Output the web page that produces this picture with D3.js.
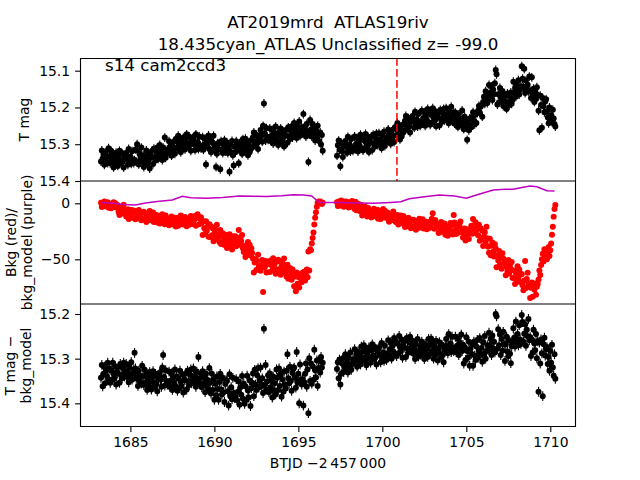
<!DOCTYPE html>
<html><head><meta charset="utf-8">
<script src="https://cdn.jsdelivr.net/npm/d3@7"></script>
<style>body{margin:0;background:#fff}svg{display:block}text{font-family:"DejaVu Sans",sans-serif;white-space:pre}</style>
</head><body><svg id="c" width="640" height="480"></svg>
<script>
// regular TESS cadence for the two orbits
const seg1Start = 1683.25, seg2Start = 1697.3, cadence = 0.05;

const topMag1 = [
15.347,15.317,15.339,15.328,15.356,15.322,15.344,15.333,15.351,15.311,
15.333,15.352,15.318,15.346,15.327,15.363,15.335,15.355,15.323,15.344,
15.359,15.331,15.318,15.343,15.351,15.324,15.347,15.363,15.334,15.328,
15.324,15.340,15.356,15.313,15.348,15.334,15.353,15.319,15.343,15.351,
15.343,15.314,15.348,15.300,15.318,15.355,15.327,15.339,15.309,15.346,
15.330,15.362,15.334,15.356,15.317,15.341,15.352,15.325,15.366,15.337,
15.333,15.318,15.354,15.312,15.336,15.344,15.321,15.309,15.340,15.329,
15.302,15.331,15.319,15.343,15.309,15.329,15.282,15.337,15.324,15.314,
15.322,15.292,15.314,15.303,15.331,15.297,15.319,15.308,15.326,15.286,
15.292,15.311,15.277,15.305,15.286,15.322,15.294,15.314,15.282,15.303,
15.314,15.286,15.273,15.298,15.306,15.279,15.302,15.318,15.289,15.283,
15.284,15.300,15.316,15.273,15.308,15.294,15.313,15.279,15.303,15.311,
15.310,15.281,15.315,15.301,15.285,15.355,15.294,15.306,15.276,15.313,
15.290,15.322,15.294,15.316,15.277,15.301,15.312,15.362,15.326,15.297,
15.313,15.298,15.368,15.292,15.316,15.324,15.301,15.289,15.320,15.309,
15.295,15.324,15.312,15.375,15.302,15.322,15.291,15.330,15.358,15.307,
15.322,15.292,15.314,15.303,15.352,15.297,15.319,15.308,15.326,15.286,
15.300,15.319,15.285,15.313,15.294,15.330,15.302,15.322,15.290,15.311,
15.309,15.281,15.268,15.293,15.301,15.274,15.297,15.313,15.284,15.278,
15.261,15.277,15.293,15.250,15.189,15.271,15.290,15.256,15.280,15.288,
15.286,15.257,15.291,15.277,15.261,15.298,15.270,15.282,15.252,15.289,
15.270,15.302,15.274,15.296,15.257,15.281,15.292,15.265,15.306,15.277,
15.275,15.260,15.296,15.254,15.278,15.286,15.263,15.251,15.282,15.271,
15.242,15.271,15.259,15.283,15.249,15.269,15.238,15.277,15.264,15.254,
15.270,15.218,15.262,15.251,15.279,15.245,15.267,15.348,15.274,15.234,
15.260,15.279,15.245,15.273,15.254,15.290,15.262,15.282,15.250,15.271,
15.292,15.268,15.301,15.275,15.318];

const topMag2 = [
15.331,15.303,15.290,15.315,15.360,15.296,15.319,15.335,15.306,15.300,
15.291,15.307,15.323,15.280,15.315,15.301,15.320,15.286,15.310,15.318,
15.308,15.279,15.313,15.299,15.283,15.320,15.292,15.304,15.274,15.311,
15.285,15.317,15.289,15.311,15.272,15.296,15.307,15.280,15.321,15.292,
15.295,15.280,15.316,15.274,15.298,15.306,15.283,15.271,15.302,15.291,
15.270,15.299,15.287,15.311,15.277,15.297,15.266,15.305,15.292,15.282,
15.290,15.260,15.282,15.271,15.299,15.265,15.287,15.276,15.294,15.254,
15.257,15.276,15.242,15.270,15.251,15.287,15.259,15.279,15.247,15.268,
15.264,15.236,15.223,15.248,15.256,15.229,15.252,15.268,15.239,15.233,
15.223,15.239,15.255,15.212,15.247,15.233,15.252,15.218,15.242,15.250,
15.238,15.209,15.243,15.229,15.213,15.250,15.222,15.234,15.204,15.241,
15.215,15.247,15.219,15.241,15.202,15.226,15.237,15.210,15.251,15.222,
15.228,15.213,15.249,15.207,15.231,15.239,15.216,15.204,15.235,15.224,
15.202,15.231,15.219,15.243,15.209,15.229,15.198,15.237,15.224,15.214,
15.244,15.214,15.236,15.225,15.253,15.219,15.241,15.230,15.248,15.208,
15.240,15.259,15.225,15.253,15.234,15.288,15.242,15.262,15.230,15.251,
15.254,15.226,15.213,15.238,15.246,15.219,15.242,15.215,15.209,15.196,
15.214,15.198,15.193,15.225,15.185,15.171,15.190,15.156,15.180,15.188,
15.168,15.139,15.173,15.159,15.143,15.180,15.152,15.164,15.134,15.098,
15.110,15.192,15.164,15.186,15.147,15.171,15.182,15.155,15.196,15.167,
15.183,15.168,15.204,15.162,15.186,15.194,15.171,15.159,15.190,15.179,
15.130,15.159,15.147,15.171,15.137,15.157,15.126,15.165,15.152,15.142,
15.088,15.122,15.144,15.095,15.161,15.127,15.149,15.138,15.156,15.116,
15.155,15.174,15.118,15.168,15.149,15.185,15.157,15.177,15.145,15.166,
15.209,15.262,15.168,15.193,15.255,15.174,15.197,15.213,15.184,15.178,
15.211,15.227,15.243,15.200,15.235,15.221,15.240,15.206,15.230,15.245,
15.252];

const bkg1 = [
0.4,-3.2,-0.5,-1.8,1.5,-2.6,0.1,-1.2,0.9,-3.9,
-2.6,-0.3,-4.4,-1.0,-3.3,1.0,-2.4,0.0,-3.8,-1.3,
-2.2,-7.8,-10.4,-5.4,-3.8,-9.2,-4.6,-1.4,-7.2,-8.4,
-11.8,-8.6,-5.4,-14.0,-7.0,-9.8,-6.0,-12.8,-8.0,-6.4,
-8.4,-14.2,-7.4,-10.2,-13.4,-6.0,-11.6,-9.2,-15.2,-7.8,
-14.0,-7.6,-13.2,-8.8,-16.6,-11.8,-9.6,-15.0,-6.8,-12.6,
-12.4,-15.4,-8.2,-16.6,-11.8,-10.2,-14.8,-17.2,-11.0,-13.2,
-18.0,-12.2,-14.6,-9.8,-16.6,-12.6,-18.8,-11.0,-13.6,-15.6,
-13.6,-19.6,-15.2,-17.4,-11.8,-18.6,-14.2,-16.4,-12.8,-20.8,
-17.0,-13.2,-20.0,-14.4,-18.2,-11.0,-16.6,-12.6,-19.0,-14.8,
-12.2,-17.8,-20.4,-15.4,-13.8,-19.2,-14.6,-11.4,-17.2,-18.4,
-17.8,-14.6,-11.4,-20.0,-13.0,-9.8,-12.0,-18.8,-14.0,-12.4,
-17.6,-28.3,-16.1,-22.3,-27.1,-16.0,-24.4,-20.8,-29.8,-18.7,
-30.0,-20.4,-28.8,-22.2,-33.9,-26.7,-23.4,-31.5,-19.2,-27.9,
-30.1,-34.6,-23.8,-36.4,-29.2,-26.8,-33.7,-37.3,-28.0,-31.3,
-40.0,-31.3,-34.9,-27.7,-37.9,-31.9,-41.2,-29.5,-33.4,-36.4,
-29.4,-38.4,-31.8,-35.1,-23.8,-36.9,-30.3,-33.6,-28.2,-40.2,
-43.5,-37.8,-48.0,-39.6,-45.3,-34.5,-42.9,-36.9,-46.5,-40.2,
-44.3,-49.2,-61.7,-52.9,-50.1,-59.6,-51.5,-45.9,-56.1,-58.2,
-60.2,-55.4,-50.6,-79.2,-53.0,-57.2,-51.5,-61.7,-54.5,-52.1,
-52.6,-61.3,-51.1,-55.3,-60.1,-49.0,-57.4,-53.8,-62.8,-51.7,
-60.0,-50.4,-58.8,-52.2,-63.9,-56.7,-53.4,-61.5,-49.2,-57.9,
-61.1,-65.6,-54.8,-67.4,-60.2,-57.8,-64.7,-68.3,-59.0,-62.3,
-74.0,-65.3,-78.5,-61.7,-71.9,-65.9,-75.2,-63.5,-67.4,-70.4,
-62,-67,-61,-69,-64,-59,-66,-43,-60,-41,
-42,-36,-31,-26,-19,-13,-8,-3,0.5,1.5,
0.8,1.6,0.2,-0.6,0.4];

const bkg2 = [
1.0,-2.5,1.6,-0.1,-2.0,2.4,-1.0,0.5,-3.1,1.3,
-2.2,1.6,-1.7,0.9,-3.8,-0.9,0.4,-2.8,2.1,-1.4,
-2.5,-5.1,1.4,-6.3,-1.9,-0.4,-4.7,-6.8,-1.2,-3.2,
-11.0,-5.2,-7.6,-2.8,-9.6,-5.6,-11.8,-4.0,-6.6,-8.6,
-6.6,-12.6,-8.2,-10.4,-4.8,-11.6,-7.2,-9.4,-5.8,-13.8,
-11.0,-7.2,-14.0,-8.4,-12.2,-5.0,-10.6,-6.6,-13.0,-8.8,
-8.2,-13.8,-16.4,-11.4,-9.8,-15.2,-10.6,-7.4,-13.2,-14.4,
-16.8,-13.6,-10.4,-19.0,-12.0,-14.8,-11.0,-17.8,-13.0,-11.4,
-15.4,-21.2,-14.4,-17.2,-20.4,-13.0,-18.6,-16.2,-22.2,-14.8,
-21.0,-14.6,-20.2,-15.8,-23.6,-18.8,-16.6,-22.0,-13.8,-19.6,
-18.4,-21.4,-14.2,-22.6,-17.8,-16.2,-20.8,-23.2,-17.0,-19.2,
-22.0,-16.2,-18.6,-13.8,-9.0,-16.6,-22.8,-15.0,-17.6,-19.6,
-19.0,-26.5,-21.0,-23.8,-16.7,-25.3,-19.7,-22.5,-18.0,-28.0,
-25.3,-20.5,-29.0,-22.0,-26.8,-17.7,-24.8,-19.7,-27.8,-10.5,
-17.2,-24.3,-27.5,-21.2,-19.2,-26.0,-20.2,-16.2,-23.5,-25.0,
-30.5,-26.5,-22.5,-33.3,-24.5,-28.0,-23.2,-31.8,-25.7,-23.7,
-20.0,-27.3,-14.0,-22.3,-26.3,-17.0,-24.0,-21.0,-28.5,-19.2,
-33.5,-22.3,-32.1,-24.4,-38.1,-29.6,-25.8,-35.3,-20.9,-31.1,
-38.9,-44.2,-31.6,-46.3,-37.9,-35.1,-43.2,-47.4,-36.5,-40.4,
-57.0,-46.8,-51.1,-42.6,-54.6,-47.5,-58.4,-44.7,-49.3,-52.8,
-53.8,-64.3,-56.6,-60.5,-50.6,-62.6,-54.8,-58.7,-52.4,-66.4,
-66.8,-60.1,-72.0,-62.2,-68.9,-56.2,-66.1,-59.0,-70.3,-62.9,
-63.3,-73.2,-77.7,-68.9,-51.5,-75.6,-67.5,-61.9,-72.1,-74.2,
-84.6,-75.4,-70.6,-83.5,-73.0,-77.2,-71.5,-81.7,-74.5,-72.1,
-68,-60,-64,-55,-50,-45,-52,-41,-48,-43,
-50,-44,-39,-47,-42,-36,-28,-21,-12,-5,
-1.5];

const modelT = [1683.25,1684.0,1684.6,1685.3,1685.9,1686.6,1687.5,1688.1,1688.6,1689.5,1690.5,1691.5,1692.3,1693.1,1694.0,1694.7,1695.3,1695.8,1696.1,1696.3,1697.3,1698.5,1699.5,1700.5,1701.1,1701.6,1702.5,1703.4,1704.3,1705.0,1705.6,1706.6,1707.3,1707.8,1708.3,1708.8,1709.2,1709.8,1710.25];
const modelV = [0.6,0.0,-1.0,-1.5,0.3,1.5,2.9,6.3,5.0,4.4,5.2,6.5,6.2,6.0,6.8,7.7,7.5,6.5,2.5,0.6,0.6,0.3,0.0,0.8,1.4,4.0,5.8,7.4,6.5,4.5,7.4,11.9,12.5,12.5,14.0,15.4,14.8,11.3,11.0];

const botMag1 = [
15.343,15.314,15.362,15.334,15.318,15.355,15.327,15.339,15.309,15.346,
15.322,15.354,15.326,15.348,15.309,15.333,15.344,15.317,15.358,15.329,
15.333,15.318,15.354,15.312,15.336,15.344,15.321,15.309,15.340,15.329,
15.312,15.341,15.329,15.353,15.319,15.339,15.308,15.347,15.334,15.324,
15.287,15.322,15.344,15.333,15.361,15.327,15.349,15.338,15.356,15.316,
15.340,15.359,15.325,15.353,15.334,15.370,15.342,15.362,15.330,15.351,
15.369,15.341,15.328,15.353,15.361,15.334,15.357,15.373,15.344,15.338,
15.331,15.347,15.363,15.320,15.292,15.341,15.360,15.326,15.350,15.358,
15.358,15.329,15.363,15.349,15.333,15.370,15.342,15.354,15.324,15.361,
15.340,15.372,15.344,15.366,15.327,15.351,15.362,15.335,15.376,15.347,
15.348,15.333,15.369,15.327,15.351,15.359,15.336,15.324,15.355,15.344,
15.322,15.351,15.339,15.363,15.329,15.349,15.296,15.357,15.344,15.334,
15.364,15.328,15.355,15.342,15.375,15.334,15.361,15.348,15.369,15.321,
15.354,15.378,15.334,15.370,15.346,15.392,15.356,15.382,15.340,15.368,
15.392,15.352,15.334,15.369,15.380,15.343,15.375,15.397,15.357,15.348,
15.350,15.373,15.405,15.335,15.384,15.364,15.391,15.343,15.377,15.388,
15.386,15.346,15.393,15.374,15.351,15.403,15.364,15.381,15.339,15.390,
15.356,15.401,15.362,15.392,15.338,15.371,15.387,15.349,15.406,15.366,
15.354,15.333,15.384,15.325,15.358,15.370,15.337,15.321,15.364,15.349,
15.320,15.361,15.344,15.377,15.233,15.358,15.314,15.369,15.351,15.337,
15.375,15.333,15.364,15.348,15.387,15.340,15.371,15.355,15.380,15.324,
15.343,15.370,15.322,15.361,15.335,15.385,15.346,15.374,15.329,15.358,
15.367,15.327,15.290,15.344,15.355,15.318,15.350,15.372,15.332,15.323,
15.320,15.343,15.365,15.285,15.354,15.334,15.400,15.313,15.347,15.358,
15.346,15.405,15.353,15.334,15.311,15.363,15.324,15.422,15.299,15.350,
15.311,15.356,15.317,15.347,15.280,15.326,15.342,15.304,15.361,15.321,
15.302,15.331,15.296,15.320,15.309];

const botMag2 = [
15.323,15.308,15.344,15.302,15.358,15.334,15.311,15.299,15.330,15.319,
15.290,15.319,15.307,15.331,15.297,15.317,15.286,15.325,15.312,15.302,
15.309,15.279,15.301,15.290,15.318,15.284,15.306,15.295,15.313,15.273,
15.285,15.304,15.270,15.298,15.279,15.315,15.287,15.307,15.275,15.296,
15.309,15.281,15.268,15.293,15.301,15.274,15.297,15.313,15.284,15.278,
15.276,15.292,15.308,15.265,15.300,15.286,15.305,15.271,15.295,15.303,
15.288,15.259,15.293,15.279,15.263,15.300,15.272,15.284,15.254,15.291,
15.262,15.294,15.266,15.288,15.249,15.273,15.284,15.257,15.298,15.269,
15.275,15.260,15.296,15.254,15.278,15.286,15.263,15.251,15.282,15.271,
15.260,15.289,15.277,15.301,15.267,15.287,15.256,15.295,15.282,15.272,
15.292,15.262,15.284,15.273,15.301,15.267,15.289,15.278,15.296,15.256,
15.270,15.289,15.255,15.283,15.264,15.300,15.272,15.292,15.260,15.281,
15.304,15.276,15.263,15.288,15.296,15.269,15.292,15.308,15.279,15.273,
15.256,15.272,15.288,15.245,15.280,15.266,15.285,15.251,15.275,15.283,
15.280,15.251,15.285,15.271,15.255,15.292,15.264,15.276,15.246,15.283,
15.269,15.311,15.274,15.303,15.252,15.283,15.298,15.262,15.316,15.278,
15.289,15.269,15.316,15.262,15.293,15.303,15.273,15.258,15.298,15.284,
15.254,15.292,15.276,15.307,15.263,15.289,15.249,15.300,15.283,15.270,
15.281,15.242,15.270,15.256,15.292,15.248,15.277,15.262,15.286,15.200,
15.205,15.278,15.234,15.270,15.246,15.292,15.256,15.282,15.240,15.268,
15.305,15.268,15.251,15.284,15.294,15.259,15.289,15.310,15.272,15.264,
15.232,15.253,15.273,15.217,15.263,15.245,15.270,15.225,15.257,15.267,
15.202,15.218,15.262,15.244,15.223,15.271,15.235,15.250,15.211,15.259,
15.252,15.294,15.257,15.286,15.235,15.266,15.281,15.245,15.299,15.261,
15.374,15.264,15.311,15.257,15.288,15.384,15.268,15.253,15.293,15.279,
15.274,15.312,15.296,15.327,15.283,15.309,15.269,15.320,15.338,15.290,
15.345];

const topErr = 0.012, botErr = 0.011;
const markerTime = 1700.87;
const xTicks = [1685, 1690, 1695, 1700, 1705, 1710];
const topTicks = [15.1, 15.2, 15.3, 15.4];
const midTicks = [0, -50];
const botTicks = [15.2, 15.3, 15.4];
const titleLines = ["AT2019mrd  ATLAS19riv", "18.435cyan_ATLAS Unclassified z= -99.0"];
const sectorLabel = "s14 cam2ccd3";
const xLabel = "BTJD \u22122\u2009457\u2009000";

// ---------- drawing ----------
const svg = d3.select("#c");
const L = 80, R = 576;
const P = [[58,181],[181,304],[304,427]];
const x = d3.scaleLinear().domain([1682.0, 1711.53]).range([L, R]);
const yTop = d3.scaleLinear().domain([15.0655, 15.4]).range([58, 181]);
const yMid = d3.scaleLinear().domain([19.9, -89.9]).range([181, 304]);
const yBot = d3.scaleLinear().domain([15.1776, 15.453]).range([304, 427]);

function series(vals, start){ return vals.map((v,i)=>({t: start + i*cadence, v})); }
const topData = series(topMag1, seg1Start).concat(series(topMag2, seg2Start));
const botData = series(botMag1, seg1Start).concat(series(botMag2, seg2Start));
const bkgData = series(bkg1, seg1Start).concat(series(bkg2, seg2Start));
const modelData = modelT.map((t,i)=>({t, v: modelV[i]}));

const defs = svg.append("defs");
P.forEach((p,i)=>defs.append("clipPath").attr("id","clip"+i).append("rect")
  .attr("x",L).attr("y",p[0]).attr("width",R-L).attr("height",p[1]-p[0]));

function errPanel(idx, data, y, err){
  const g = svg.append("g").attr("clip-path","url(#clip"+idx+")");
  g.selectAll("line").data(data).join("line")
    .attr("x1",d=>x(d.t)).attr("x2",d=>x(d.t))
    .attr("y1",d=>y(d.v-err)).attr("y2",d=>y(d.v+err))
    .attr("stroke","#000").attr("stroke-width",1.1);
  g.selectAll("circle").data(data).join("circle")
    .attr("cx",d=>x(d.t)).attr("cy",d=>y(d.v)).attr("r",3.0).attr("fill","#000");
}
errPanel(0, topData, yTop, topErr);
errPanel(2, botData, yBot, botErr);

const gm = svg.append("g").attr("clip-path","url(#clip1)");
gm.selectAll("circle").data(bkgData).join("circle")
  .attr("cx",d=>x(d.t)).attr("cy",d=>yMid(d.v)).attr("r",3.0).attr("fill","#ff0000");
gm.append("path").datum(modelData)
  .attr("d", d3.line().x(d=>x(d.t)).y(d=>yMid(d.v)))
  .attr("fill","none").attr("stroke","#bf00bf").attr("stroke-width",1.5);

// dashed marker
svg.append("line").attr("x1",x(markerTime)).attr("x2",x(markerTime))
  .attr("y1",58).attr("y2",181).attr("stroke","#ff0000").attr("stroke-width",1.5)
  .attr("stroke-dasharray","7.7,3.3");

// frames (shared edges drawn once)
const frame = svg.append("g").attr("stroke","#000").attr("stroke-width",1.1).attr("fill","none");
[58.5,181,304,426.5].forEach(yy=>frame.append("line").attr("x1",L).attr("x2",R).attr("y1",yy).attr("y2",yy));
[L+0.5,R-0.5].forEach(xx=>frame.append("line").attr("x1",xx).attr("x2",xx).attr("y1",58).attr("y2",427));

function styleAxis(g){
  g.select(".domain").remove();
  g.attr("font-family","DejaVu Sans, sans-serif").attr("font-size","13.9px");
  g.selectAll(".tick line").attr("stroke","#000").attr("stroke-width",1.1);
  g.selectAll(".tick text").attr("fill","#000");
}
svg.append("g").attr("transform","translate("+L+",0)")
  .call(d3.axisLeft(yTop).tickValues(topTicks).tickSize(4.9).tickPadding(5).tickFormat(d3.format(".1f"))).call(styleAxis);
svg.append("g").attr("transform","translate("+L+",0)")
  .call(d3.axisLeft(yMid).tickValues(midTicks).tickSize(4.9).tickPadding(5).tickFormat(d3.format("d"))).call(styleAxis);
svg.append("g").attr("transform","translate("+L+",0)")
  .call(d3.axisLeft(yBot).tickValues(botTicks).tickSize(4.9).tickPadding(5).tickFormat(d3.format(".1f"))).call(styleAxis);
svg.append("g").attr("transform","translate(0,427)")
  .call(d3.axisBottom(x).tickValues(xTicks).tickSize(4.9).tickPadding(5.2).tickFormat(d3.format("d"))).call(styleAxis);

// texts
const cx = (L+R)/2;
svg.append("text").attr("x",cx).attr("y",27.5).attr("text-anchor","middle").attr("font-size","16.7px").attr("xml:space","preserve").text(titleLines[0]);
svg.append("text").attr("x",cx).attr("y",50).attr("text-anchor","middle").attr("font-size","16.7px").text(titleLines[1]);
svg.append("text").attr("x",105).attr("y",70.5).attr("font-size","16.7px").text(sectorLabel);
svg.append("text").attr("x",cx).attr("y",468).attr("text-anchor","middle").attr("font-size","13.9px").text(xLabel);

function ylab(xb, yc, s){
  svg.append("text").attr("transform","translate("+xb+","+yc+") rotate(-90)")
    .attr("text-anchor","middle").attr("font-size","13.9px").text(s);
}
ylab(29, 119.5, "T mag");
ylab(15.5, 242.5, "Bkg (red)/");
ylab(31.5, 242.5, "bkg_model (purple)");
ylab(15, 365.5, "T mag \u2212");
ylab(31, 365.5, "bkg_model");
</script></body></html>
